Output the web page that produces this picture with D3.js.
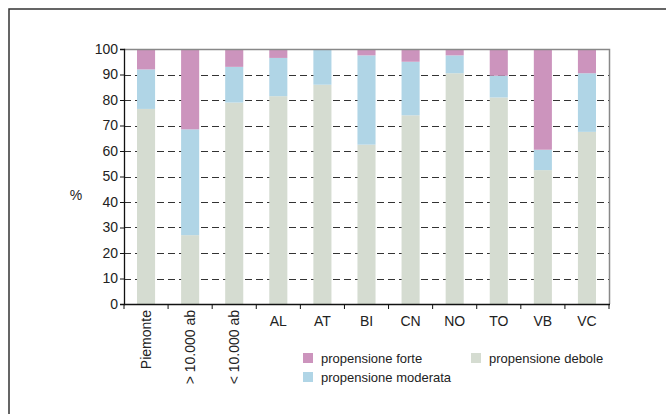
<!DOCTYPE html>
<html><head><meta charset="utf-8">
<script src="https://cdn.jsdelivr.net/npm/d3@7/dist/d3.min.js"></script>
<style>
html,body{margin:0;padding:0;background:#fff;}
svg{display:block;font-family:"Liberation Sans",Arial,sans-serif;}
</style></head>
<body><svg id="c" width="666" height="414"></svg>
<script>
const categories = ["Piemonte", "> 10.000 ab", "< 10.000 ab", "AL", "AT", "BI", "CN", "NO", "TO", "VB", "VC"];
const debole   = [76.5, 27, 79, 81.5, 86, 62.5, 74, 90.5, 81, 52.5, 67.5];
const moderata = [15.5, 41.5, 14, 15, 14, 35, 21, 7, 8.5, 8, 23];
const forte    = [8, 31.5, 7, 3.5, 0, 2.5, 5, 2.5, 10.5, 39.5, 9.5];
const seriesNames = ["propensione debole", "propensione moderata", "propensione forte"];
const seriesColors = ["#d5dcd1", "#b0d5e6", "#cc94bd"];
const yTicks = [0, 10, 20, 30, 40, 50, 60, 70, 80, 90, 100];
const rotatedLabels = ["Piemonte", "> 10.000 ab", "< 10.000 ab"];

const svg = d3.select("#c");
const L = 124, R = 609, T = 49, B = 304;

// outer frame (top + left)
svg.append("path").attr("d", `M9,414 V9 H666`).attr("fill", "none")
  .attr("stroke", "#333").attr("stroke-width", 1.5);

const x = d3.scaleBand().domain(categories).range([L, R]).paddingInner(0.59).paddingOuter(0.295);
const y = d3.scaleLinear().domain([0, 100]).range([B, T]);

// gridlines
svg.append("g").selectAll("line").data(yTicks.filter(d => d > 0 && d < 100)).join("line")
  .attr("x1", L).attr("x2", R).attr("y1", d => Math.round(y(d)) + 0.5).attr("y2", d => Math.round(y(d)) + 0.5)
  .attr("stroke", "#333").attr("stroke-width", 1).attr("stroke-dasharray", "7,4");

// stacked bars
const rows = categories.map((c, i) => ({cat: c, d: debole[i], m: moderata[i], f: forte[i]}));
const stack = d3.stack().keys(["d", "m", "f"])(rows);
svg.append("g").selectAll("g").data(stack).join("g")
  .attr("fill", (s, i) => seriesColors[i])
  .selectAll("rect").data(s => s).join("rect")
  .attr("x", d => x(d.data.cat)).attr("width", x.bandwidth())
  .attr("y", d => y(d[1])).attr("height", d => y(d[0]) - y(d[1]));

// top and right frame
svg.append("path").attr("d", `M${L},${T + 0.5} H${R + 0.5} V${B}`).attr("fill", "none")
  .attr("stroke", "#888").attr("stroke-width", 1.5);

// y axis
const yAxis = svg.append("g").attr("transform", `translate(${L},0)`)
  .call(d3.axisLeft(y).tickValues(yTicks).tickSize(4).tickPadding(2));
yAxis.select(".domain").attr("stroke", "#111").attr("stroke-width", 1.3);
yAxis.selectAll(".tick line").attr("stroke", "#111");
yAxis.selectAll("text").attr("font-size", 14).attr("fill", "#222").attr("font-family", "Liberation Sans, Arial, sans-serif");

// x axis
const step = x.step();
const bounds = d3.range(categories.length + 1).map(i => L + i * (R - L) / categories.length);
const xg = svg.append("g");
xg.append("line").attr("x1", L).attr("x2", R + 1).attr("y1", B + 0.5).attr("y2", B + 0.5)
  .attr("stroke", "#111").attr("stroke-width", 1.3);
xg.selectAll("line.t").data(bounds).join("line").attr("class", "t")
  .attr("x1", d => d).attr("x2", d => d).attr("y1", B).attr("y2", B + 5)
  .attr("stroke", "#111").attr("stroke-width", 1);

// x labels
categories.forEach(c => {
  const cx = x(c) + x.bandwidth() / 2;
  if (rotatedLabels.includes(c)) {
    svg.append("text").attr("transform", `translate(${cx + 5},${310}) rotate(-90)`)
      .attr("text-anchor", "end").attr("font-size", 14).attr("fill", "#222").text(c);
  } else {
    svg.append("text").attr("x", cx).attr("y", 326).attr("text-anchor", "middle")
      .attr("font-size", 14).attr("fill", "#222").text(c);
  }
});

// y title
svg.append("text").attr("x", 76).attr("y", 200).attr("text-anchor", "middle")
  .attr("font-size", 14).attr("fill", "#222").text("%");

// legend
const legendItems = [
  {name: seriesNames[2], color: seriesColors[2], x: 303, y: 353},
  {name: seriesNames[1], color: seriesColors[1], x: 303, y: 372},
  {name: seriesNames[0], color: seriesColors[0], x: 471, y: 353}
];
const lg = svg.append("g");
legendItems.forEach(it => {
  lg.append("rect").attr("x", it.x).attr("y", it.y).attr("width", 10).attr("height", 10).attr("fill", it.color);
  lg.append("text").attr("x", it.x + 18).attr("y", it.y + 10).attr("font-size", 13).attr("fill", "#222").text(it.name);
});
</script></body></html>
